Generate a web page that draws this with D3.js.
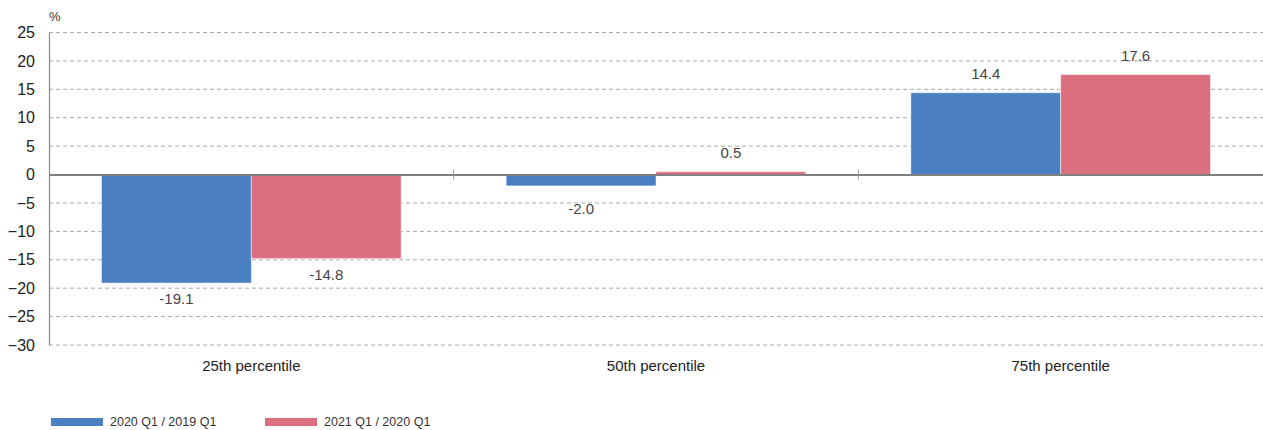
<!DOCTYPE html>
<html>
<head>
<meta charset="utf-8">
<script src="https://cdn.jsdelivr.net/npm/d3@7"></script>
<style>
  body { margin: 0; background: #fff; }
  svg { display: block; font-family: "Liberation Sans", Arial, sans-serif; }
</style>
</head>
<body>
<svg id="chart"></svg>
<script>
const categories = ["25th percentile", "50th percentile", "75th percentile"];
const seriesNames = ["2020 Q1 / 2019 Q1", "2021 Q1 / 2020 Q1"];
const series2020 = [-19.1, -2.0, 14.4];
const series2021 = [-14.8, 0.5, 17.6];
const yTicks = [25, 20, 15, 10, 5, 0, -5, -10, -15, -20, -25, -30];
const colors = ["#4a7fc1", "#dc6f7f"];

const svgWidth = 1263;
const svgHeight = 430;
const svg = d3.select("#chart")
    .attr("width", svgWidth)
    .attr("height", svgHeight);

const margin = { top: 32.5, right: 0, bottom: 85, left: 49 };
const width = svgWidth - margin.left - margin.right;
const height = svgHeight - margin.top - margin.bottom;

const g = svg.append("g")
    .attr("transform", `translate(${margin.left},${margin.top})`);

const x = d3.scaleBand()
    .domain(categories)
    .range([0, width])
    .paddingInner(0)
    .paddingOuter(0);

const x1 = d3.scaleBand()
    .domain([0, 1])
    .range([52.5, x.bandwidth() - 52.5]);

const y = d3.scaleLinear()
    .domain([-30, 25])
    .range([height, 0]);

// gridlines
g.selectAll("line.grid")
    .data(yTicks.filter(t => t !== 0))
    .enter()
    .append("line")
    .attr("class", "grid")
    .attr("x1", 0)
    .attr("x2", width)
    .attr("y1", d => y(d))
    .attr("y2", d => y(d))
    .attr("stroke", "#aaa")
    .attr("stroke-width", 1)
    .attr("stroke-dasharray", "4,3");

// y axis
const yAxis = g.append("g")
    .call(d3.axisLeft(y).tickValues(yTicks).tickSize(0).tickPadding(14));
yAxis.select(".domain").attr("stroke", "#888").attr("stroke-width", 1.2);
yAxis.selectAll("text")
    .attr("font-size", 16)
    .attr("fill", "#222");

svg.append("text")
    .attr("x", 49)
    .attr("y", 21)
    .attr("font-size", 13)
    .attr("fill", "#333")
    .text("%");

// bars
const data = categories.map((c, i) => ({
    key: c,
    values: [series2020[i], series2021[i]]
}));

const groups = g.selectAll("g.cat")
    .data(data)
    .enter()
    .append("g")
    .attr("class", "cat")
    .attr("transform", d => `translate(${x(d.key)},0)`);

groups.selectAll("rect")
    .data(d => d.values.map((v, j) => ({ v, j })))
    .enter()
    .append("rect")
    .attr("x", d => x1(d.j))
    .attr("width", x1.bandwidth())
    .attr("y", d => y(Math.max(0, d.v)))
    .attr("height", d => Math.abs(y(d.v) - y(0)))
    .attr("fill", d => colors[d.j])
    .attr("stroke", "#fff")
    .attr("stroke-opacity", 0.5)
    .attr("stroke-width", 1);

groups.selectAll("text.val")
    .data(d => d.values.map((v, j) => ({ v, j })))
    .enter()
    .append("text")
    .attr("class", "val")
    .attr("x", d => x1(d.j) + x1.bandwidth() / 2)
    .attr("y", d => d.v >= 0 ? y(d.v) - 19 : Math.max(y(d.v) + 16, y(0) + 34))
    .attr("dy", "0.35em")
    .attr("text-anchor", "middle")
    .attr("font-size", 15)
    .attr("fill", "#444")
    .text(d => d.v.toFixed(1));

// zero axis with category ticks
const xAxis = g.append("g")
    .attr("transform", `translate(0,${y(0)})`)
    .call(d3.axisBottom(x).tickSize(0).tickFormat(""));
xAxis.select(".domain").attr("stroke", "#808080").attr("stroke-width", 2);

g.selectAll("line.sep")
    .data(categories.slice(1))
    .enter()
    .append("line")
    .attr("class", "sep")
    .attr("x1", d => x(d))
    .attr("x2", d => x(d))
    .attr("y1", y(0) - 5)
    .attr("y2", y(0) + 5)
    .attr("stroke", "#999")
    .attr("stroke-width", 1);

// category labels
g.selectAll("text.cat")
    .data(categories)
    .enter()
    .append("text")
    .attr("class", "cat")
    .attr("x", d => x(d) + x.bandwidth() / 2)
    .attr("y", height + 21)
    .attr("dy", "0.35em")
    .attr("text-anchor", "middle")
    .attr("font-size", 15)
    .attr("fill", "#222")
    .text(d => d);

// legend
const legendX = [51, 265];
const legend = svg.selectAll("g.legend")
    .data(seriesNames)
    .enter()
    .append("g")
    .attr("class", "legend")
    .attr("transform", (d, i) => `translate(${legendX[i]},418)`);

legend.append("rect")
    .attr("width", 52)
    .attr("height", 8)
    .attr("fill", (d, i) => colors[i]);

legend.append("text")
    .attr("x", 59)
    .attr("y", 4)
    .attr("dy", "0.35em")
    .attr("font-size", 12.5)
    .attr("fill", "#333")
    .text(d => d);
</script>
</body>
</html>
